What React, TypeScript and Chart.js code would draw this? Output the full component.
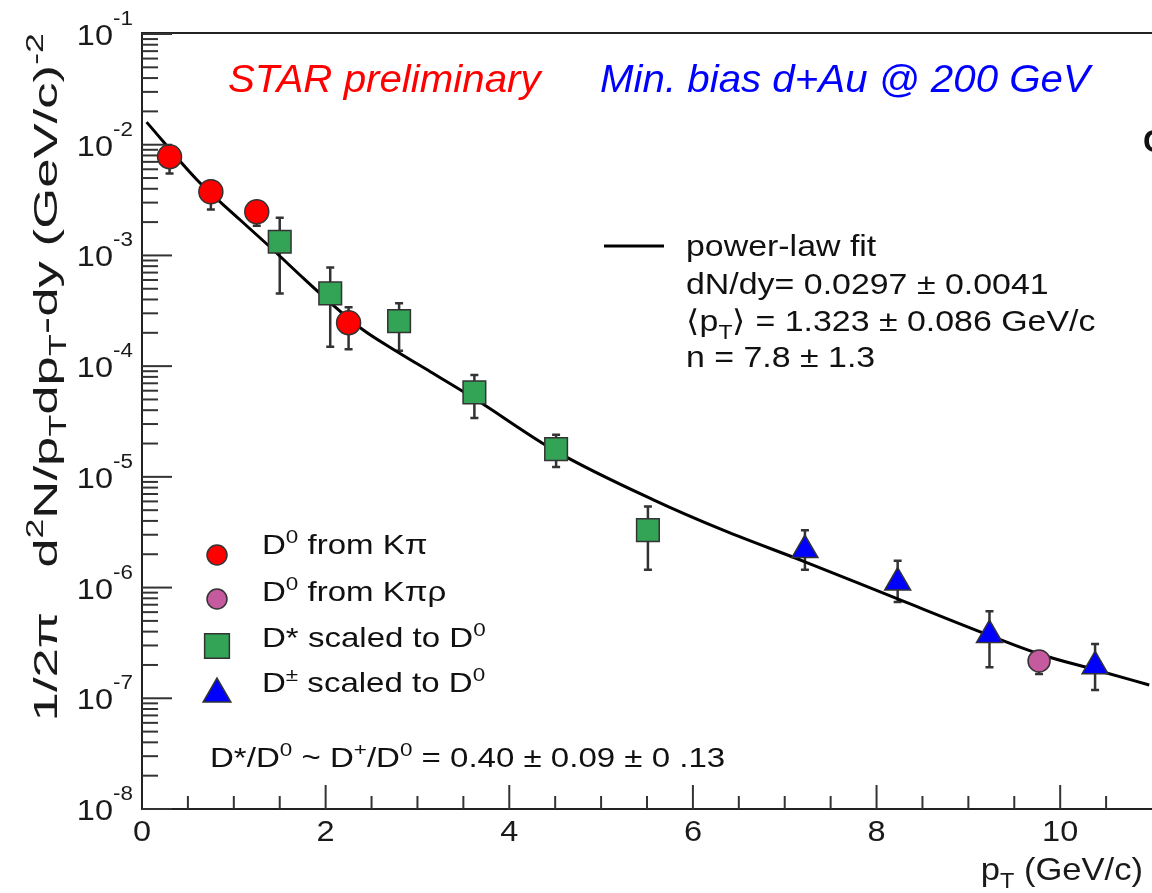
import React, { useEffect, useRef } from "react";
import { Chart, registerables } from "chart.js";

Chart.register(...registerables);

// ---------------- data ----------------
const xTickValues = [0, 2, 4, 6, 8, 10];
const xTickLabels = ["0", "2", "4", "6", "8", "10"];
const yDecadeExponents = [-1, -2, -3, -4, -5, -6, -7, -8];

// D0 from K pi
const kpiPt = [0.3, 0.75, 1.25, 2.25];
const kpiVal = [7.8e-3, 3.76e-3, 2.48e-3, 2.47e-4];
const kpiLow = [5.5e-3, 2.6e-3, 1.85e-3, 1.42e-4];
const kpiHigh = [9.0e-3, 4.7e-3, 3.0e-3, 3.4e-4];

// D0 from K pi rho
const kpirhoPt = [9.77];
const kpirhoVal = [2.17e-7];
const kpirhoLow = [1.66e-7];
const kpirhoHigh = [2.5e-7];

// D* scaled to D0
const dstarPt = [1.5, 2.05, 2.8, 3.62, 4.51, 5.51];
const dstarVal = [1.33e-3, 4.54e-4, 2.55e-4, 5.8e-5, 1.78e-5, 3.3e-6];
const dstarLow = [4.54e-4, 1.5e-4, 1.38e-4, 3.4e-5, 1.23e-5, 1.45e-6];
const dstarHigh = [2.19e-3, 7.8e-4, 3.69e-4, 8.3e-5, 2.4e-5, 5.4e-6];

// D+- scaled to D0
const dpmPt = [7.22, 8.23, 9.23, 10.38];
const dpmVal = [2.18e-6, 1.11e-6, 3.72e-7, 1.95e-7];
const dpmLow = [1.45e-6, 7.4e-7, 1.91e-7, 1.19e-7];
const dpmHigh = [3.3e-6, 1.75e-6, 6.1e-7, 3.09e-7];

// power-law fit curve
const fitPt = [0.05, 0.6, 1.07, 1.43, 1.76, 2.05, 2.41, 2.78, 3.14, 3.62, 4.51, 5.57, 6.33, 7.22, 8.23, 9.23, 9.78, 10.39, 10.97];
const fitVal = [1.6e-2, 4.8e-3, 2.09e-3, 1.12e-3, 6.2e-4, 3.75e-4, 2.12e-4, 1.35e-4, 8.9e-5, 5.1e-5, 1.7e-5, 6.2e-6, 3.3e-6, 1.71e-6, 7.9e-7, 3.7e-7, 2.5e-7, 1.8e-7, 1.32e-7];

const FAMILY = '"Liberation Sans", Arial, Helvetica, sans-serif';
const RED = "#ff0000";
const MAGENTA = "#c55a9f";
const GREEN = "#33a356";
const BLUE = "#0000ff";
const MARKER_EDGE = "#333333";

type Seg = { t: string; sup?: boolean; sub?: boolean };

function drawRich(
  ctx: CanvasRenderingContext2D,
  x: number,
  y: number,
  segs: Seg[],
  size: number,
  opts: { style?: string; align?: "left" | "right" | "center"; color?: string; sx?: number } = {}
) {
  const style = opts.style || "";
  const sx = opts.sx || 1;
  const fontOf = (s: number) => `${style} ${s}px ${FAMILY}`;
  let total = 0;
  const widths = segs.map((sg) => {
    const s = sg.sup || sg.sub ? size * 0.68 : size;
    ctx.font = fontOf(s);
    const w = ctx.measureText(sg.t).width;
    total += w;
    return w;
  });
  ctx.save();
  ctx.translate(x, y);
  ctx.scale(sx, 1);
  let cx = opts.align === "right" ? -total : opts.align === "center" ? -total / 2 : 0;
  ctx.fillStyle = opts.color || "#111";
  ctx.textAlign = "left";
  ctx.textBaseline = "alphabetic";
  segs.forEach((sg, i) => {
    const s = sg.sup || sg.sub ? size * 0.68 : size;
    ctx.font = fontOf(s);
    const dy = sg.sup ? -size * 0.4 : sg.sub ? size * 0.25 : 0;
    ctx.fillText(sg.t, cx, dy);
    cx += widths[i];
  });
  ctx.restore();
  return total * sx;
}

// legend marker, same geometry as Chart.js point styles
function drawMarker(ctx: CanvasRenderingContext2D, style: string, x: number, y: number, r: number, fill: string) {
  ctx.save();
  ctx.fillStyle = fill;
  ctx.strokeStyle = MARKER_EDGE;
  ctx.lineWidth = 1.5;
  ctx.beginPath();
  if (style === "circle") {
    ctx.arc(x, y, r, 0, Math.PI * 2);
  } else if (style === "rect") {
    const s = Math.SQRT1_2 * r;
    ctx.rect(x - s, y - s, 2 * s, 2 * s);
  } else {
    ctx.moveTo(x, y - r);
    ctx.lineTo(x + Math.sin((2 * Math.PI) / 3) * r, y + r / 2);
    ctx.lineTo(x - Math.sin((2 * Math.PI) / 3) * r, y + r / 2);
    ctx.closePath();
  }
  ctx.fill();
  ctx.stroke();
  ctx.restore();
}

const errorSets = [
  { pt: kpiPt, low: kpiLow, high: kpiHigh },
  { pt: kpirhoPt, low: kpirhoLow, high: kpirhoHigh },
  { pt: dstarPt, low: dstarLow, high: dstarHigh },
  { pt: dpmPt, low: dpmLow, high: dpmHigh },
];

const decor = {
  id: "decor",
  beforeDatasetsDraw(chart: any) {
    const ctx: CanvasRenderingContext2D = chart.ctx;
    const xs = chart.scales.x;
    const ys = chart.scales.y;
    ctx.save();
    ctx.strokeStyle = "#333";
    ctx.lineWidth = 2.5;
    errorSets.forEach((s) => {
      s.pt.forEach((p, i) => {
        const px = xs.getPixelForValue(p);
        const yl = ys.getPixelForValue(s.low[i]);
        const yh = ys.getPixelForValue(s.high[i]);
        ctx.beginPath();
        ctx.moveTo(px, yl);
        ctx.lineTo(px, yh);
        ctx.moveTo(px - 4, yl);
        ctx.lineTo(px + 4, yl);
        ctx.moveTo(px - 4, yh);
        ctx.lineTo(px + 4, yh);
        ctx.stroke();
      });
    });
    ctx.restore();
  },
  afterDraw(chart: any) {
    const ctx: CanvasRenderingContext2D = chart.ctx;
    const xs = chart.scales.x;
    const ys = chart.scales.y;
    const a = chart.chartArea;
    ctx.save();
    // frame
    ctx.strokeStyle = "#222";
    ctx.lineWidth = 2;
    ctx.beginPath();
    ctx.moveTo(a.right + 2, a.top - 1);
    ctx.lineTo(a.left, a.top - 1);
    ctx.lineTo(a.left, a.bottom);
    ctx.lineTo(a.right + 2, a.bottom);
    ctx.stroke();

    // y ticks (inside)
    ctx.lineWidth = 2;
    ctx.strokeStyle = "#333";
    yDecadeExponents.forEach((e) => {
      const base = Math.pow(10, e);
      const py = ys.getPixelForValue(base);
      ctx.beginPath();
      ctx.moveTo(a.left, py);
      ctx.lineTo(a.left + 30, py);
      ctx.stroke();
      if (e < -1) {
        for (let m = 2; m <= 9; m++) {
          const my = ys.getPixelForValue(m * base);
          ctx.beginPath();
          ctx.moveTo(a.left, my);
          ctx.lineTo(a.left + 16, my);
          ctx.stroke();
        }
      }
    });
    // x ticks (inside)
    for (let v = 0.5; v < 11; v += 0.5) {
      const px = xs.getPixelForValue(v);
      const major = Math.abs(v / 2 - Math.round(v / 2)) < 1e-6;
      ctx.beginPath();
      ctx.moveTo(px, a.bottom);
      ctx.lineTo(px, a.bottom - (major ? 24 : 13));
      ctx.stroke();
    }

    // y tick labels
    yDecadeExponents.forEach((e) => {
      const py = ys.getPixelForValue(Math.pow(10, e));
      drawRich(ctx, 113, py + 11, [{ t: "10" }], 29, { align: "right", sx: 1.12, color: "#1a1a1a" });
      drawRich(ctx, 113, py - 9, [{ t: String(e) }], 20, { align: "left", sx: 1.12, color: "#1a1a1a" });
    });
    // x tick labels
    xTickValues.forEach((v, i) => {
      const px = xs.getPixelForValue(v);
      drawRich(ctx, px, a.bottom + 32, [{ t: xTickLabels[i] }], 29, { align: "center", sx: 1.12, color: "#1a1a1a" });
    });

    // axis titles
    drawRich(ctx, 1143, 880, [{ t: "p" }, { t: "T", sub: true }, { t: " (GeV/c)" }], 32, { align: "right", color: "#1a1a1a", sx: 1.08 });
    ctx.save();
    ctx.translate(57, 33);
    ctx.rotate(-Math.PI / 2);
    drawRich(
      ctx,
      0,
      0,
      [
        { t: "1/2π   d" },
        { t: "2", sup: true },
        { t: "N/p" },
        { t: "T", sub: true },
        { t: "dp" },
        { t: "T", sub: true },
        { t: "-dy (GeV/c)" },
        { t: "-2", sup: true },
      ],
      34,
      { align: "right", color: "#1a1a1a", sx: 1.55 }
    );
    ctx.restore();

    // header texts
    drawRich(ctx, 228, 92, [{ t: "STAR preliminary" }], 38, { style: "italic", color: RED, sx: 1.06 });
    drawRich(ctx, 600, 92, [{ t: "Min. bias d+Au @ 200 GeV" }], 38, { style: "italic", color: BLUE, sx: 1.06 });
    drawRich(ctx, 1143, 152, [{ t: "C" }], 32, { style: "bold", color: "#111" });

    // fit legend
    ctx.strokeStyle = "#000";
    ctx.lineWidth = 3;
    ctx.beginPath();
    ctx.moveTo(604, 246);
    ctx.lineTo(664, 246);
    ctx.stroke();
    const fx = 686;
    const fs = 30;
    drawRich(ctx, fx, 256, [{ t: "power-law fit" }], fs, { sx: 1.13 });
    drawRich(ctx, fx, 294, [{ t: "dN/dy= 0.0297 ± 0.0041" }], fs, { sx: 1.13 });
    drawRich(ctx, fx, 331, [{ t: "⟨p" }, { t: "T", sub: true }, { t: "⟩ = 1.323 ± 0.086 GeV/c" }], fs, { sx: 1.13 });
    drawRich(ctx, fx, 367, [{ t: "n = 7.8 ± 1.3" }], fs, { sx: 1.13 });

    // marker legend
    const lx = 217;
    const tx = 262;
    const ls = 28;
    drawMarker(ctx, "circle", lx, 555, 10, RED);
    drawRich(ctx, tx, 554, [{ t: "D" }, { t: "0", sup: true }, { t: " from Kπ" }], ls, { sx: 1.18 });
    drawMarker(ctx, "circle", lx, 599, 10, MAGENTA);
    drawRich(ctx, tx, 601, [{ t: "D" }, { t: "0", sup: true }, { t: " from Kπρ" }], ls, { sx: 1.18 });
    drawMarker(ctx, "rect", lx, 646, 17.5, GREEN);
    drawRich(ctx, tx, 647, [{ t: "D* scaled to D" }, { t: "0", sup: true }], ls, { sx: 1.18 });
    drawMarker(ctx, "triangle", lx, 694, 16, BLUE);
    drawRich(ctx, tx, 692, [{ t: "D" }, { t: "±", sup: true }, { t: " scaled to D" }, { t: "0", sup: true }], ls, { sx: 1.18 });

    drawRich(
      ctx,
      210,
      767,
      [
        { t: "D*/D" },
        { t: "0", sup: true },
        { t: " ~ D" },
        { t: "+", sup: true },
        { t: "/D" },
        { t: "0", sup: true },
        { t: " = 0.40 ± 0.09 ± 0 .13" },
      ],
      28,
      { sx: 1.18 }
    );
    ctx.restore();
  },
};

export default function App() {
  const ref = useRef<HTMLCanvasElement>(null);
  useEffect(() => {
    document.body.style.margin = "0";
    const canvas = ref.current!;
    const pts = (xs: number[], ys: number[]) => xs.map((x, i) => ({ x, y: ys[i] }));
    const chart = new Chart(canvas, {
      type: "scatter",
      data: {
        datasets: [
          {
            label: "power-law fit",
            data: pts(fitPt, fitVal),
            showLine: true,
            borderColor: "#000",
            borderWidth: 3,
            pointRadius: 0,
            cubicInterpolationMode: "monotone",
            order: 5,
          } as any,
          {
            label: "D0 from Kpi",
            data: pts(kpiPt, kpiVal),
            pointStyle: "circle",
            pointRadius: 12,
            pointBackgroundColor: RED,
            pointBorderColor: MARKER_EDGE,
            pointBorderWidth: 1.5,
            order: 1,
          },
          {
            label: "D0 from Kpirho",
            data: pts(kpirhoPt, kpirhoVal),
            pointStyle: "circle",
            pointRadius: 11,
            pointBackgroundColor: MAGENTA,
            pointBorderColor: MARKER_EDGE,
            pointBorderWidth: 1.5,
            order: 1,
          },
          {
            label: "D* scaled to D0",
            data: pts(dstarPt, dstarVal),
            pointStyle: "rect",
            pointRadius: 16,
            pointBackgroundColor: GREEN,
            pointBorderColor: MARKER_EDGE,
            pointBorderWidth: 1.5,
            order: 1,
          },
          {
            label: "D+- scaled to D0",
            data: pts(dpmPt, dpmVal),
            pointStyle: "triangle",
            pointRadius: 15,
            pointBackgroundColor: BLUE,
            pointBorderColor: MARKER_EDGE,
            pointBorderWidth: 1.5,
            order: 1,
          },
        ],
      },
      options: {
        responsive: false,
        animation: false,
        devicePixelRatio: 1,
        events: [],
        layout: { autoPadding: false, padding: { left: 142, right: 0, top: 34, bottom: 84 } },
        scales: {
          x: { type: "linear", min: 0, max: 11, display: false },
          y: { type: "logarithmic", min: 1e-8, max: 1e-1, display: false },
        },
        plugins: { legend: { display: false }, tooltip: { enabled: false } },
      },
      plugins: [decor],
    });
    return () => chart.destroy();
  }, []);
  return <canvas ref={ref} width={1152} height={893} style={{ display: "block" }} />;
}
